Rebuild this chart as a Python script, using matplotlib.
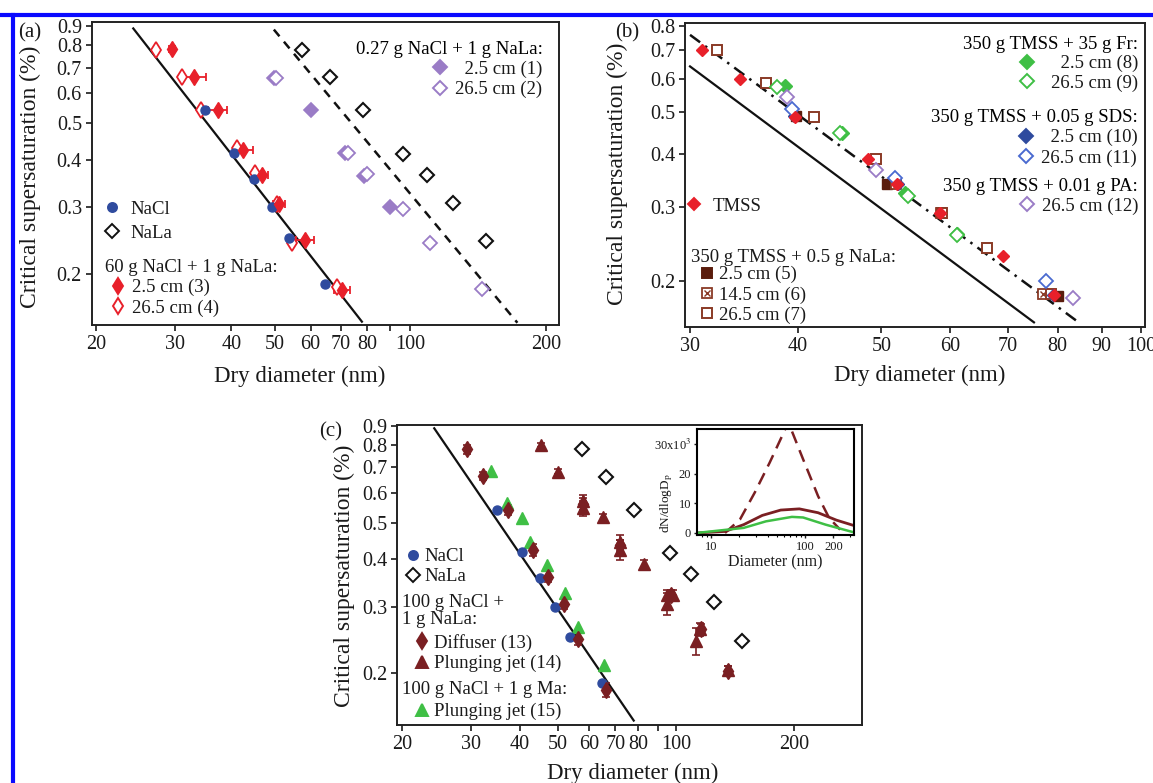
import matplotlib.pyplot as plt
from matplotlib.lines import Line2D
from matplotlib.legend import Legend
from matplotlib.ticker import FixedLocator, FixedFormatter, NullLocator

plt.rcParams['font.family'] = ['Liberation Serif', 'DejaVu Serif']
plt.rcParams['mathtext.fontset'] = 'stix'

# === colours ===
RED = "#e8202a"
BLUE = "#2f4b9e"
PURPLE = "#9a7cc6"
GREEN = "#3fbf45"
BROWN = "#5a1c0c"
SQBROWN = "#8a3a26"
OBLUE = "#4a6ad0"
MAROON = "#7a1f22"
TXT = "#1a1a1a"

# === (a) data ===
nacl_d = [35.0, 40.6, 44.9, 49.2, 53.8, 64.7]
nacl_s = [0.54, 0.418, 0.357, 0.30, 0.249, 0.189]
nala_d = [57.5, 66.4, 78.3, 96.5, 109.1, 124.6, 146.9]
nala_s = [0.78, 0.659, 0.54, 0.415, 0.365, 0.308, 0.244]
a1_d = [49.7, 60.1, 71.5, 78.8, 90.0]
a1_s = [0.658, 0.54, 0.418, 0.362, 0.30]
a2_d = [50.2, 72.6, 80.1, 96.5, 110.8, 144.3]
a2_s = [0.658, 0.418, 0.366, 0.297, 0.242, 0.183]
a3_d = [29.5, 33.1, 37.3, 42.5, 46.8, 51.1, 58.4, 70.5]
a3_s = [0.785, 0.661, 0.54, 0.424, 0.364, 0.306, 0.246, 0.182]
a3_err = [0.4, 2.0, 1.8, 2.2, 1.5, 1.6, 2.6, 2.8]
a4_d = [27.25, 31.1, 34.3, 41.1, 45.2, 50.4, 54.4, 68.8]
a4_s = [0.78, 0.661, 0.54, 0.43, 0.370, 0.306, 0.242, 0.185]
kohler_a_d = [24.2, 78.0]
kohler_a_s = [0.887, 0.150]
nala_fit_d = [49.7, 172.9]
nala_fit_s = [0.881, 0.149]

# === (b) data ===
tmss_d = [31.0, 34.3, 39.7, 48.2, 52.1, 58.4, 69.2, 79.2]
tmss_s = [0.70, 0.60, 0.488, 0.388, 0.339, 0.289, 0.229, 0.186]
b5_d = [39.8, 50.8, 80.1]
b5_s = [0.49, 0.339, 0.185]
b6_d = [52.0, 58.6, 77.0]
b6_s = [0.34, 0.29, 0.187]
b7_d = [32.2, 36.7, 41.8, 49.3, 58.7, 66.2, 78.6]
b7_s = [0.70, 0.586, 0.488, 0.388, 0.289, 0.24, 0.187]
b8_d = [38.7, 45.0, 53.3, 61.2]
b8_s = [0.576, 0.447, 0.323, 0.258]
b9_d = [37.8, 44.8, 53.7, 61.2]
b9_s = [0.574, 0.447, 0.317, 0.257]
b10_d = [39.6, 52.3, 79.0]
b10_s = [0.49, 0.34, 0.186]
b11_d = [39.4, 51.8, 77.5]
b11_s = [0.509, 0.35, 0.20]
b12_d = [38.9, 49.3, 83.4]
b12_s = [0.545, 0.365, 0.183]
tmss_fit_d = [30.0, 75.1]
tmss_fit_s = [0.642, 0.160]
mix_fit_d = [30.0, 84.6]
mix_fit_s = [0.762, 0.160]

# === (c) data ===
c13_d = [29.4, 32.2, 37.2, 43.3, 47.2, 51.7, 56.2, 66.1, 58.0, 72.1, 97.0, 116.0, 135.4]
c13_s = [0.78, 0.664, 0.54, 0.424, 0.36, 0.305, 0.247, 0.181, 0.56, 0.435, 0.322, 0.262, 0.203]
c13_err = [0.02, 0.015, 0.015, 0.015, 0.012, 0.01, 0.01, 0.008, 0.02, 0.015, 0.01, 0.008, 0.006]
c14_d = [45.2, 50.1, 58.0, 58.0, 65.0, 72.1, 72.1, 83.0, 94.6, 98.3, 94.6, 115.1, 112.1, 135.4]
c14_s = [0.802, 0.682, 0.571, 0.546, 0.517, 0.445, 0.424, 0.388, 0.322, 0.322, 0.305, 0.261, 0.244, 0.204]
c14_err = [0.01, 0.01, 0.02, 0.025, 0.01, 0.02, 0.025, 0.01, 0.01, 0.01, 0.02, 0.01, 0.02, 0.005]
c15_d = [33.7, 37.0, 40.4, 42.5, 47.0, 52.0, 56.4, 65.7]
c15_s = [0.684, 0.562, 0.513, 0.445, 0.386, 0.326, 0.265, 0.21]

# inset size distributions
dist_jet_d = [14.1, 20.3, 29.2, 42.1, 60.5, 66.0, 95.4, 137.6, 180.0, 236.0]
dist_jet_n = [0.0, 4.5, 13.6, 23.7, 34.4, 37.5, 24.8, 12.4, 5.1, 1.1]
dist_diff_d = [7.1, 14.1, 22.3, 35.1, 55.2, 87.0, 137.6, 216.0, 330.0]
dist_diff_n = [0.0, 0.5, 2.8, 5.9, 7.7, 8.1, 6.8, 4.3, 2.5]
dist_ma_d = [7.1, 22.3, 38.4, 72.5, 95.4, 165.0, 330.0]
dist_ma_n = [0.0, 1.7, 3.9, 5.4, 5.2, 2.8, 0.2]

W, H = 1153, 783
fig = plt.figure(figsize=(W / 100, H / 100), dpi=100)


def px_axes(l, t, r, b):
    return fig.add_axes([l / W, 1 - b / H, (r - l) / W, (b - t) / H])


def style(ax, xlim, ylim, xt, xtl, yt):
    ax.set_xscale('log')
    ax.set_yscale('log')
    ax.set_xlim(xlim)
    ax.set_ylim(ylim)
    ax.xaxis.set_major_locator(FixedLocator(xt))
    ax.xaxis.set_major_formatter(FixedFormatter(xtl))
    ax.xaxis.set_minor_locator(NullLocator())
    ax.yaxis.set_major_locator(FixedLocator(yt))
    ax.yaxis.set_major_formatter(FixedFormatter([f"{v:.1f}" for v in yt]))
    ax.yaxis.set_minor_locator(NullLocator())
    ax.tick_params(direction='out', length=4, width=1.2, labelsize=14.5, pad=3,
                   colors=TXT)
    for s in ax.spines.values():
        s.set_linewidth(1.4)
        s.set_color("#222222")
    ax.set_xlabel("Dry diameter (nm)", fontsize=16.5, color=TXT)
    ax.set_ylabel("Critical supersaturation (%)", fontsize=17, color=TXT)


def mk(marker, color, fill=True, ms=7.5):
    return Line2D([], [], ls='none', marker=marker, color=color, ms=ms,
                  mfc=color if fill else 'white', mew=1.4)


LFS = 13.5


def leg(ax, handles, labels, spacing=0.16, pad=0.3, **kw):
    lg = Legend(ax, handles, labels, frameon=False, fontsize=LFS, handletextpad=pad,
                borderpad=0, labelspacing=spacing, borderaxespad=0, handlelength=1.0,
                title_fontsize=LFS, labelcolor=TXT, **kw)
    ax.add_artist(lg)
    return lg


def title(ax, x, y, s):
    ax.text(x, y, s, transform=ax.transAxes, fontsize=LFS, color=TXT, ha='left',
            va='center', linespacing=1.0)


# ---------------- panel (a) ----------------
ax = px_axes(91.7, 21.7, 558.6, 325)
xt = [20, 30, 40, 50, 60, 70, 80, 90, 100, 200]
xtl = ['20', '30', '40', '50', '60', '70', '80', '', '100', '200']
style(ax, (19.56, 213.5), (0.147, 0.924), xt, xtl, [0.2, 0.3, 0.4, 0.5, 0.6, 0.7, 0.8, 0.9])
ax.plot(kohler_a_d, kohler_a_s, color='#111111', lw=1.6)
ax.plot(nala_fit_d, nala_fit_s, color='#111111', lw=1.8, dashes=(3.5, 2.8))
ax.plot(a1_d, a1_s, 'D', color=PURPLE, ms=7.5, mew=1.2)
ax.plot(a2_d, a2_s, 'D', color=PURPLE, mfc='white', ms=7.5, mew=1.3)
ax.plot(nala_d, nala_s, 'D', color='#111111', mfc='white', ms=7, mew=1.5)
ax.errorbar(a3_d, a3_s, xerr=a3_err, fmt='d', color=RED, ms=8.5, capsize=3, elinewidth=1.3,
            capthick=1.3)
ax.plot(a4_d, a4_s, 'd', color=RED, mfc='white', ms=8.5, mew=1.3)
ax.plot(nacl_d, nacl_s, 'o', color=BLUE, ms=6.5)
ax.yaxis.set_label_coords(-0.109, 0.49)
ax.xaxis.set_label_coords(0.446, -0.135)

leg(ax, [mk('D', PURPLE), mk('D', PURPLE, False)], ['  2.5 cm (1)', '26.5 cm (2)'],
    title="0.27 g NaCl + 1 g NaLa:", loc='upper right', bbox_to_anchor=(0.966, 0.937),
    alignment='right')
leg(ax, [mk('o', BLUE, ms=6.5), mk('D', '#111111', False, ms=7)], ['NaCl', 'NaLa'],
    spacing=0.36, pad=0.51, loc='upper left', bbox_to_anchor=(0.0227, 0.41))
title(ax, 0.029, 0.191, "60 g NaCl + 1 g NaLa:")
leg(ax, [mk('d', RED, ms=8.5), mk('d', RED, False, ms=8.5)], ['2.5 cm (3)', '26.5 cm (4)'],
    pad=0.23, loc='upper left', bbox_to_anchor=(0.0363, 0.152))
fig.text(30 / W, 1 - 33 / H, "(a)", fontsize=15, ha='center', va='center', color=TXT)

# ---------------- panel (b) ----------------
ax = px_axes(685, 22.7, 1145, 327)
xt = [30, 40, 50, 60, 70, 80, 90, 100]
style(ax, (29.6, 101), (0.156, 0.814), xt, [str(v) for v in xt],
      [0.2, 0.3, 0.4, 0.5, 0.6, 0.7, 0.8])
ax.plot(tmss_fit_d, tmss_fit_s, color='#111111', lw=1.6)
ax.plot(mix_fit_d, mix_fit_s, color='#111111', lw=1.8, dashes=(5, 2.5, 1, 2.5))
ax.plot(b5_d, b5_s, 's', color=BROWN, ms=7)
ax.plot(b6_d, b6_s, 's', color=SQBROWN, mfc='white', ms=7, mew=1.3)
ax.plot(b6_d, b6_s, 'x', color=SQBROWN, ms=4.5, mew=1.0)
ax.plot(b7_d, b7_s, 's', color=SQBROWN, mfc='white', ms=7, mew=1.4)
ax.plot(b8_d, b8_s, 'D', color=GREEN, ms=7.5)
ax.plot(b9_d, b9_s, 'D', color=GREEN, mfc='white', ms=7.5, mew=1.3)
ax.plot(b10_d, b10_s, 'D', color=BLUE, ms=6.5)
ax.plot(b11_d, b11_s, 'D', color=OBLUE, mfc='white', ms=7.5, mew=1.3)
ax.plot(b12_d, b12_s, 'D', color=PURPLE, mfc='white', ms=7.5, mew=1.3)
ax.plot(tmss_d, tmss_s, 'D', color=RED, ms=6)
ax.yaxis.set_label_coords(-0.124, 0.503)
ax.xaxis.set_label_coords(0.51, -0.125)

leg(ax, [mk('D', GREEN), mk('D', GREEN, False)], ['  2.5 cm (8)', '26.5 cm (9)'],
    spacing=0.12, pad=0.75, title="350 g TMSS + 35 g Fr:", loc='upper right',
    bbox_to_anchor=(0.985, 0.957), alignment='right')
leg(ax, [mk('D', BLUE), mk('D', OBLUE, False)], ['  2.5 cm (10)', '26.5 cm (11)'],
    title="350 g TMSS + 0.05 g SDS:", loc='upper right',
    bbox_to_anchor=(0.985, 0.716), alignment='right')
leg(ax, [mk('D', PURPLE, False)], ['26.5 cm (12)'],
    title="350 g TMSS + 0.01 g PA:", loc='upper right',
    bbox_to_anchor=(0.985, 0.491), alignment='right')
leg(ax, [mk('D', RED, ms=6)], ['TMSS'], pad=0.49, loc='center left',
    bbox_to_anchor=(0.0, 0.396))
title(ax, 0.014, 0.227, "350 g TMSS + 0.5 g NaLa:")
sq6 = Line2D([], [], ls='none', marker='s', color=SQBROWN, mfc='white', ms=7, mew=1.3)
x6 = Line2D([], [], ls='none', marker='x', color=SQBROWN, ms=4.5, mew=1.0)
leg(ax, [mk('s', BROWN, ms=7), (sq6, x6), mk('s', SQBROWN, False, ms=7)],
    ['2.5 cm (5)', '14.5 cm (6)', '26.5 cm (7)'], pad=0.15,
    loc='upper left', bbox_to_anchor=(0.0267, 0.20))
fig.text(627.5 / W, 1 - 33 / H, "(b)", fontsize=15, ha='center', va='center', color=TXT)

# ---------------- panel (c) ----------------
ax = px_axes(397, 425, 861.6, 725)
xt = [20, 30, 40, 50, 60, 70, 80, 90, 100, 200]
style(ax, (19.45, 297), (0.146, 0.905), xt, xtl, [0.2, 0.3, 0.4, 0.5, 0.6, 0.7, 0.8, 0.9])
ax.plot(kohler_a_d, kohler_a_s, color='#111111', lw=1.6)
ax.plot(nala_d, nala_s, 'D', color='#111111', mfc='white', ms=7, mew=1.5)
ax.errorbar(c13_d, c13_s, yerr=c13_err, fmt='d', color=MAROON, ms=8, capsize=3,
            elinewidth=1.2, capthick=1.2)
ax.errorbar(c14_d, c14_s, yerr=c14_err, fmt='^', color=MAROON, ms=8, capsize=3,
            elinewidth=1.2, capthick=1.2)
ax.plot(c15_d, c15_s, '^', color=GREEN, ms=8)
ax.plot(nacl_d, nacl_s, 'o', color=BLUE, ms=6.5)
ax.yaxis.set_label_coords(-0.090, 0.497)
ax.xaxis.set_label_coords(0.508, -0.126)

leg(ax, [mk('o', BLUE, ms=6.5), mk('D', '#111111', False, ms=7)], ['NaCl', 'NaLa'],
    pad=0.13, loc='upper left', bbox_to_anchor=(0.0138, 0.59))
title(ax, 0.010, 0.38, "100 g NaCl +\n1 g NaLa:")
leg(ax, [mk('d', MAROON, ms=8.5), mk('^', MAROON, ms=8)],
    ['Diffuser (13)', 'Plunging jet (14)'], pad=0.14, loc='upper left',
    bbox_to_anchor=(0.0336, 0.303))
title(ax, 0.010, 0.117, "100 g NaCl + 1 g Ma:")
leg(ax, [mk('^', GREEN, ms=8)], ['Plunging jet (15)'], pad=0.14, loc='upper left',
    bbox_to_anchor=(0.0336, 0.073))
fig.text(331 / W, 1 - 432 / H, "(c)", fontsize=15, ha='center', va='center', color=TXT)

# inset
ins = px_axes(696.6, 429, 853.8, 535)
ins.plot(dist_jet_d, dist_jet_n, color=MAROON, lw=1.8, dashes=(5, 3))
ins.plot(dist_diff_d, dist_diff_n, color=MAROON, lw=2.0)
ins.plot(dist_ma_d, dist_ma_n, color=GREEN, lw=1.8)
ins.set_xscale('log')
ins.set_xlim(7.03, 330)
ins.set_ylim(-0.7, 35)
ins.xaxis.set_major_locator(FixedLocator([10, 100, 200]))
ins.xaxis.set_major_formatter(FixedFormatter(['10', '100', '200']))
ins.yaxis.set_major_locator(FixedLocator([0, 10, 20, 30]))
ins.yaxis.set_major_formatter(FixedFormatter(['0', '10', '20', r'30x10$^3$']))
ins.tick_params(direction='out', length=2.5, width=1, labelsize=9, pad=1.5, colors=TXT)
ins.tick_params(which='minor', length=1.5, width=0.8)
for s in ins.spines.values():
    s.set_linewidth(1.5)
ins.set_xlabel("Diameter (nm)", fontsize=11.5, labelpad=1, color=TXT)
ins.set_ylabel(r"dN/dlogD$_\mathrm{p}$", fontsize=9.5, color=TXT)
ins.yaxis.set_label_coords(-0.14, 0.3)

# blue frame
fig.add_artist(Line2D([0, 1], [1 - 15 / H, 1 - 15 / H], color='#0a0aff', lw=3))
fig.add_artist(Line2D([13.5 / W, 13.5 / W], [0, 1 - 15 / H], color='#0a0aff', lw=3))

fig.savefig("out.png", dpi=100)
